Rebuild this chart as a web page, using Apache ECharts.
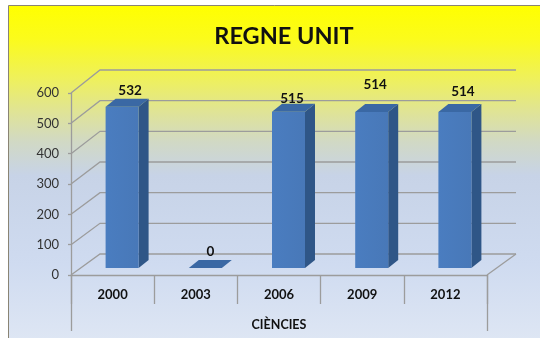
<!DOCTYPE html>
<html>
<head>
<meta charset="utf-8">
<script src="https://cdn.jsdelivr.net/npm/echarts@6/dist/echarts.min.js"></script>
<style>
  html, body { margin: 0; padding: 0; background: #fff; }
  #chart { width: 540px; height: 338px; }
</style>
</head>
<body>
<div id="chart"></div>
<script>
// ---- data ----
const chartTitle = 'REGNE UNIT';
const axisTitle = 'CIÈNCIES';
const categories = ['2000', '2003', '2006', '2009', '2012'];
const values = [532, 0, 515, 514, 514];
const valueTicks = [0, 100, 200, 300, 400, 500, 600];

// ---- pseudo-3D look ----
const GRID = '#9c9c9c';
const WALL_DX = 29, WALL_DY = -21, BACK_SCALE = 1.011;   // back wall offset from the front plane
const BAR_DX = 9.5, BAR_DY = -7;                          // bars stand mid-depth on the floor
const BAR_W = 33, DEPTH_DX = 10, DEPTH_DY = -8;           // bar front width and extrusion
const FONT = 'Lato, "Open Sans", sans-serif';
// small per-label nudges for the value labels
const labelNudge = [[3, 0], [0, 0], [-1.5, 3], [-1.5, -11.5], [3, -4.5]];

const chart = echarts.init(document.getElementById('chart'), null, { renderer: 'canvas' });

function renderWall(params, api) {
  const v = api.value(1);
  const cs = params.coordSys;
  const L = cs.x, R = cs.x + cs.width;
  const y = api.coord([0, v])[1];
  const y0 = api.coord([0, 0])[1];
  const yb = y0 + WALL_DY - (y0 - y) * BACK_SCALE;
  const style = { stroke: GRID, lineWidth: 1.3, fill: null };
  const children = [{
    type: 'polyline',
    shape: { points: [[L, y], [L + WALL_DX, yb], [R + WALL_DX, yb]] },
    style: style
  }];
  if (v === 0) {
    children.push({ type: 'line', shape: { x1: R, y1: y, x2: R + WALL_DX, y2: yb }, style: style });
  }
  return { type: 'group', children: children };
}

function renderBar(params, api) {
  const i = api.value(0), v = api.value(1);
  const base = api.coord([i, 0]);
  const top = api.coord([i, v]);
  const cx = base[0] + BAR_DX;
  const yb = base[1] + BAR_DY;
  const yt = top[1] + BAR_DY;
  const x0 = cx - BAR_W / 2, x1 = cx + BAR_W / 2;
  const children = [];
  if (yb - yt > 0.5) {
    children.push({
      type: 'polygon',
      shape: { points: [[x1, yt], [x1 + DEPTH_DX, yt + DEPTH_DY], [x1 + DEPTH_DX, yb + DEPTH_DY], [x1, yb]] },
      style: { fill: '#2f5687' }
    });
    children.push({
      type: 'rect',
      shape: { x: x0, y: yt, width: BAR_W, height: yb - yt },
      style: { fill: new echarts.graphic.LinearGradient(0, 0, 1, 0, [
        { offset: 0, color: '#4a7dc0' }, { offset: 1, color: '#4878b8' }
      ]) }
    });
  }
  children.push({
    type: 'polygon',
    shape: { points: [[x0, yt], [x0 + DEPTH_DX, yt + DEPTH_DY], [x1 + DEPTH_DX, yt + DEPTH_DY], [x1, yt]] },
    style: { fill: '#3a68a4' }
  });
  const n = labelNudge[i] || [0, 0];
  children.push({
    type: 'text',
    x: cx + 5 + n[0],
    y: yt + DEPTH_DY - 8 + n[1],
    style: {
      text: String(v), fill: '#111', fontFamily: FONT, fontWeight: 'bold', fontSize: 13.5,
      align: 'center', verticalAlign: 'middle'
    }
  });
  return { type: 'group', children: children };
}

const option = {
  backgroundColor: '#fff',
  animation: false,
  graphic: [{
    type: 'rect',
    z: -100,
    silent: true,
    shape: { x: 8.5, y: 5.5, width: 540, height: 340 },
    style: {
      fill: new echarts.graphic.LinearGradient(0, 0, 0, 1, [
        { offset: 0, color: '#ffff00' },
        { offset: 0.1, color: '#fbfb1c' },
        { offset: 0.22, color: '#eef05e' },
        { offset: 0.31, color: '#e0e494' },
        { offset: 0.4, color: '#d1d9c4' },
        { offset: 0.5, color: '#c7d3e7' },
        { offset: 0.76, color: '#cfdbf0' },
        { offset: 1, color: '#dfe7f4' }
      ]),
      stroke: '#8a8474',
      lineWidth: 1
    }
  }],
  title: {
    text: chartTitle,
    left: 279,
    textAlign: 'center',
    top: 19,
    textStyle: { fontFamily: FONT, fontWeight: 'bold', fontSize: 23.5, color: '#111' }
  },
  grid: { left: 71, right: 53, top: 93, bottom: 63 },
  xAxis: [{
    type: 'category',
    data: categories,
    position: 'bottom',
    axisLine: { show: true, lineStyle: { color: GRID, width: 1.3 } },
    axisTick: { show: true, interval: 0, alignWithLabel: false, length: 29, lineStyle: { color: GRID, width: 1.3 } },
    axisLabel: { interval: 0, margin: 13, fontFamily: FONT, fontWeight: 'bold', fontSize: 13, color: '#111' },
    splitLine: { show: false }
  }, {
    type: 'category',
    data: [axisTitle],
    position: 'bottom',
    axisLine: { show: false },
    axisTick: { show: true, interval: 0, alignWithLabel: false, length: 56, lineStyle: { color: GRID, width: 1.3 } },
    axisLabel: { margin: 43, fontFamily: FONT, fontWeight: 'bold', fontSize: 12.5, color: '#111' },
    splitLine: { show: false }
  }],
  yAxis: {
    type: 'value',
    min: 0, max: 600, interval: 100,
    axisLine: { show: true, lineStyle: { color: GRID, width: 1.3 } },
    axisTick: { show: true, length: 3, lineStyle: { color: GRID, width: 1.3 } },
    axisLabel: { margin: 12, fontFamily: FONT, fontSize: 13, color: '#333' },
    splitLine: { show: false }
  },
  series: [{
    type: 'custom',
    name: 'walls',
    z: 1,
    silent: true,
    renderItem: renderWall,
    encode: { x: 0, y: 1 },
    data: valueTicks.map(function (v) { return [0, v]; })
  }, {
    type: 'custom',
    name: chartTitle,
    z: 3,
    renderItem: renderBar,
    encode: { x: 0, y: 1 },
    data: values.map(function (v, i) { return [i, v]; })
  }]
};

chart.setOption(option);
</script>
</body>
</html>
